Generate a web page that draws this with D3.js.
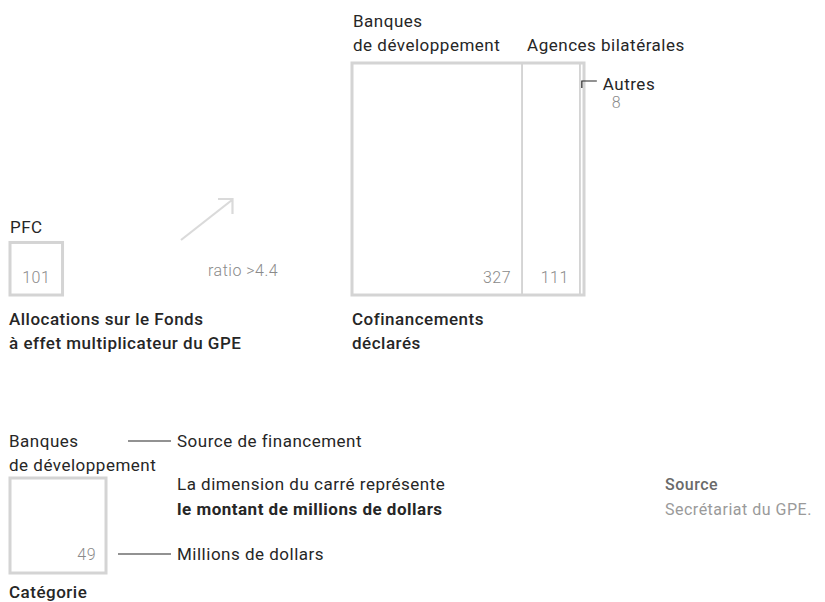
<!DOCTYPE html>
<html><head><meta charset="utf-8">
<script src="https://cdn.jsdelivr.net/npm/d3@7/dist/d3.min.js"></script>
<style>
html,body{margin:0;padding:0;background:#fff;}
svg{display:block;font-family:Roboto,"Noto Sans",sans-serif;}
</style></head>
<body>
<svg id="c" width="825" height="602"></svg>
<script>
// ---- data ----
const cofinCategories = ["Banques de développement", "Agences bilatérales", "Autres"];
const cofinValues = [327, 111, 8];
const pfcCategory = "PFC";
const pfcValue = 101;
const ratioLabel = "ratio >4.4";
const legendValue = 49;

const svg = d3.select("#c");
const dark = "#262626", grey = "#8a8a8a", boxStroke = "#d4d4d4";
const total = d3.sum(cofinValues);

// size scale: side length proportional to amount
const side = d3.scaleLinear().domain([0, total]).range([0, 232]);

const baseY = 295; // bottom of squares

// ---- cofinancing square ----
const gBig = svg.append("g").attr("transform", `translate(352,${baseY - side(total)})`);
let acc = 0;
const strips = cofinValues.map((v, i) => { const s = {v, i, x0: side(acc), w: side(v)}; acc += v; return s; });
gBig.selectAll("rect.strip").data(strips).join("rect")
  .attr("x", d => d.x0).attr("y", 0).attr("width", d => d.w).attr("height", side(total))
  .attr("fill", "none").attr("stroke", boxStroke).attr("stroke-width", 1.6);
gBig.append("rect").attr("x", 0).attr("y", 0).attr("width", side(total)).attr("height", side(total))
  .attr("fill", "none").attr("stroke", boxStroke).attr("stroke-width", 3);
gBig.selectAll("text.val").data(strips.filter(d => d.i < 2)).join("text")
  .attr("x", d => d.x0 + d.w - 11).attr("y", side(total) - 12)
  .attr("text-anchor", "end").attr("fill", grey).attr("font-size", 16).attr("font-weight", 300)
  .attr("letter-spacing", 0.5).text(d => d.v);

// category labels
const lab = (x, y, t, opt = {}) => svg.append("text").attr("x", x).attr("y", y)
  .attr("fill", opt.fill || dark).attr("font-size", opt.size || 17)
  .attr("font-weight", opt.weight || 400).attr("letter-spacing", opt.ls == null ? 0.5 : opt.ls)
  .attr("text-anchor", opt.anchor || "start").text(t);

const bx = 352, by = baseY - side(total);
const parts0 = cofinCategories[0].split(" ");
lab(bx + 1, 27, parts0[0]);
lab(bx + 1, 51, parts0.slice(1).join(" "));
lab(bx + strips[1].x0 + 5, 51, cofinCategories[1]);
// Autres leader
const ax = bx + strips[2].x0 + 2;
svg.append("path").attr("d", `M${ax},${by + 25}V${by + 18}H${ax + 15}`)
  .attr("fill", "none").attr("stroke", dark).attr("stroke-width", 1.2);
lab(ax + 21, 90, cofinCategories[2]);
lab(ax + 30, 108, cofinValues[2], {fill: grey, size: 16, weight: 300});

lab(bx, 325, "Cofinancements", {weight: 500});
lab(bx, 349, "déclarés", {weight: 500});

// ---- PFC square ----
const px = 10;
svg.append("rect").attr("x", px).attr("y", baseY - side(pfcValue))
  .attr("width", side(pfcValue)).attr("height", side(pfcValue))
  .attr("fill", "none").attr("stroke", boxStroke).attr("stroke-width", 3);
lab(px, 233, pfcCategory);
svg.append("text").attr("x", px + side(pfcValue) / 2).attr("y", baseY - 12)
  .attr("text-anchor", "middle").attr("fill", grey).attr("font-size", 16).attr("font-weight", 300)
  .attr("letter-spacing", 0.5).text(pfcValue);
lab(9, 325, "Allocations sur le Fonds", {weight: 500});
lab(9, 349, "à effet multiplicateur du GPE", {weight: 500});

// arrow + ratio
svg.append("path").attr("d", "M181,240L232,200M218,199H232.5V214")
  .attr("fill", "none").attr("stroke", "#dadada").attr("stroke-width", 2.2);
lab(208, 276, ratioLabel, {fill: grey, size: 16, weight: 300});

// ---- legend ----
lab(9, 447, "Banques");
lab(9, 471, "de développement");
svg.append("line").attr("x1", 128).attr("x2", 171).attr("y1", 441).attr("y2", 441).attr("stroke", dark).attr("stroke-width", 1.2);
lab(177, 447, "Source de financement");
svg.append("rect").attr("x", 10).attr("y", 478).attr("width", 96).attr("height", 95)
  .attr("fill", "none").attr("stroke", boxStroke).attr("stroke-width", 3);
lab(96, 560, legendValue, {fill: grey, size: 16, weight: 300, anchor: "end"});
svg.append("line").attr("x1", 118).attr("x2", 171).attr("y1", 554).attr("y2", 554).attr("stroke", dark).attr("stroke-width", 1.2);
lab(177, 560, "Millions de dollars");
lab(9, 598, "Catégorie", {weight: 500});
lab(177, 490, "La dimension du carré représente");
lab(177, 515, "le montant de millions de dollars", {weight: 700});

// source
lab(665, 490, "Source", {fill: "#6a6a6a", weight: 500, size: 16});
lab(665, 515, "Secrétariat du GPE.", {fill: "#9a9a9a", size: 16});
</script>
</body></html>
